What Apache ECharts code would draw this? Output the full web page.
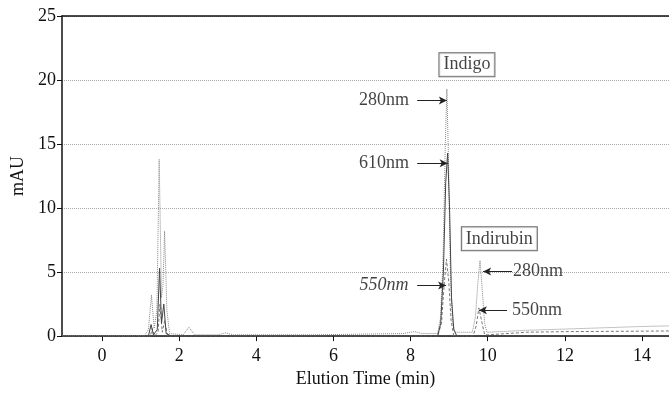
<!DOCTYPE html>
<html>
<head>
<meta charset="utf-8">
<script src="https://cdn.jsdelivr.net/npm/echarts@6/dist/echarts.min.js"></script>
<style>html,body{margin:0;padding:0;background:#fff;}#c{width:669px;height:393px;}</style>
</head>
<body>
<div id="c"></div>
<script>
// x tick values (min)
const xTicks = [0, 2, 4, 6, 8, 10, 12, 14];
// 280 nm trace [time, mAU]
const trace280 = [[-1.04,0.05],[1.1,0.05],[1.2,0.5],[1.28,3.2],[1.35,0.6],[1.42,2],[1.48,13.8],[1.54,3],[1.58,4],[1.62,8.2],[1.68,2],[1.75,0.2],[2.1,0.1],[2.25,0.7],[2.4,0.1],[3.0,0.1],[3.2,0.25],[3.4,0.1],[5.5,0.1],[7.8,0.2],[8.1,0.35],[8.3,0.2],[8.7,0.2],[8.78,1.5],[8.84,6],[8.9,15],[8.94,19.3],[8.98,14],[9.03,5],[9.09,1],[9.15,0.3],[9.6,0.3],[9.68,1.5],[9.74,4],[9.8,5.9],[9.86,3.5],[9.92,1],[9.98,0.3],[11,0.45],[12,0.55],[13,0.65],[14,0.75],[14.7,0.8]];
// 610 nm trace
const trace610 = [[-1.04,0],[1.2,0],[1.27,0.9],[1.33,0.1],[1.43,0.5],[1.49,5.3],[1.54,1],[1.6,2.5],[1.66,0.2],[1.8,0],[8.7,0],[8.78,1],[8.85,5],[8.91,12],[8.96,14.3],[9.01,10],[9.06,3],[9.12,0.5],[9.2,0],[14.7,0]];
// 550 nm trace
const trace550 = [[-1.04,0],[1.25,0],[1.3,0.6],[1.36,0],[1.45,0.3],[1.5,2.5],[1.56,0.3],[1.62,1.2],[1.7,0],[8.7,0],[8.8,1],[8.87,4],[8.93,6],[8.99,4.2],[9.05,1.2],[9.12,0],[9.62,0],[9.7,0.8],[9.77,2.2],[9.84,1.2],[9.92,0.1],[10,0.1],[11,0.3],[12,0.35],[14.7,0.4]];
// annotations (data coordinates)
const noteText = ['Indigo','280nm','610nm','550nm','Indirubin','280nm','550nm'];
const noteX = [9.46, 7.31, 7.31, 7.31, 10.3, 11.3, 11.28];
const noteY = [21.2, 18.4, 13.5, 3.96, 7.6, 5.05, 2.02];
const noteBoxed = [true, false, false, false, true, false, false];
const noteItalic = [false, false, false, true, false, false, false];
const arrowFromX = [8.17, 8.17, 8.17, 10.63, 10.5];
const arrowFromY = [18.4, 13.5, 3.96, 5.05, 2.02];
const arrowToX = [8.94, 8.96, 8.92, 9.88, 9.77];

const FONT = 'Liberation Serif';
const TXT = '#111';
const chart = echarts.init(document.getElementById('c'));

const noteData = noteText.map((t, i) => ({
  value: [noteX[i], noteY[i]],
  label: {
    show: true, position: 'inside', formatter: t,
    fontFamily: FONT, fontSize: 18, color: TXT,
    fontStyle: noteItalic[i] ? 'italic' : 'normal',
    borderColor: noteBoxed[i] ? '#444' : 'transparent',
    borderWidth: noteBoxed[i] ? 1 : 0,
    padding: noteBoxed[i] ? [3, 4, 2, 4] : 0,
    backgroundColor: noteBoxed[i] ? '#fff' : 'transparent'
  }
}));
const arrowData = arrowFromX.map((x, i) => [
  { coord: [x, arrowFromY[i]] },
  { coord: [arrowToX[i], arrowFromY[i]] }
]);

chart.setOption({
  animation: false,
  backgroundColor: '#fff',
  grid: { left: 62, right: 0, top: 16, bottom: 55 },
  xAxis: [{
    type: 'value', min: -1.04, max: 14.7, position: 'bottom',
    name: 'Elution Time (min)', nameLocation: 'middle', nameGap: 33,
    nameTextStyle: { fontFamily: FONT, fontSize: 18, color: TXT },
    axisLine: { show: true, lineStyle: { color: '#111', width: 1.5 } },
    axisTick: { show: true, customValues: xTicks, length: 5, lineStyle: { color: '#111' } },
    axisLabel: { customValues: xTicks, fontFamily: FONT, fontSize: 18, color: TXT, margin: 11 },
    splitLine: { show: false }
  }, {
    type: 'value', min: -1.04, max: 14.7, position: 'top',
    axisLine: { show: true, onZero: false, lineStyle: { color: '#111', width: 1.5 } },
    axisTick: { show: false }, axisLabel: { show: false }, splitLine: { show: false }
  }],
  yAxis: {
    type: 'value', min: 0, max: 25, interval: 5,
    name: 'mAU', nameLocation: 'middle', nameGap: 35, nameRotate: 90,
    nameTextStyle: { fontFamily: FONT, fontSize: 18, color: TXT },
    axisLine: { show: true, onZero: false, lineStyle: { color: '#111', width: 1.5 } },
    axisTick: { show: true, length: 5, lineStyle: { color: '#111' } },
    axisLabel: { fontFamily: FONT, fontSize: 18, color: TXT, margin: 6 },
    splitLine: { show: true, lineStyle: { color: '#aaa', type: 'dotted', width: 1 } }
  },
  series: [
    { name: '280nm', type: 'line', data: trace280, showSymbol: false, symbol: 'none',
      lineStyle: { color: '#888', width: 1, type: 'dotted' }, z: 3 },
    { name: '550nm', type: 'line', data: trace550, showSymbol: false, symbol: 'none',
      lineStyle: { color: '#777', width: 1, type: [3, 2] }, z: 3 },
    { name: '610nm', type: 'line', data: trace610, showSymbol: false, symbol: 'none',
      lineStyle: { color: '#444', width: 1 }, z: 4,
      markLine: { silent: true, symbol: ['none', 'arrow'], symbolSize: [6, 8],
        label: { show: false },
        lineStyle: { color: '#222', width: 1, type: 'solid' },
        data: arrowData } },
    { name: 'notes', type: 'scatter', data: noteData, symbolSize: 0, z: 10, silent: true }
  ]
});
</script>
</body>
</html>
